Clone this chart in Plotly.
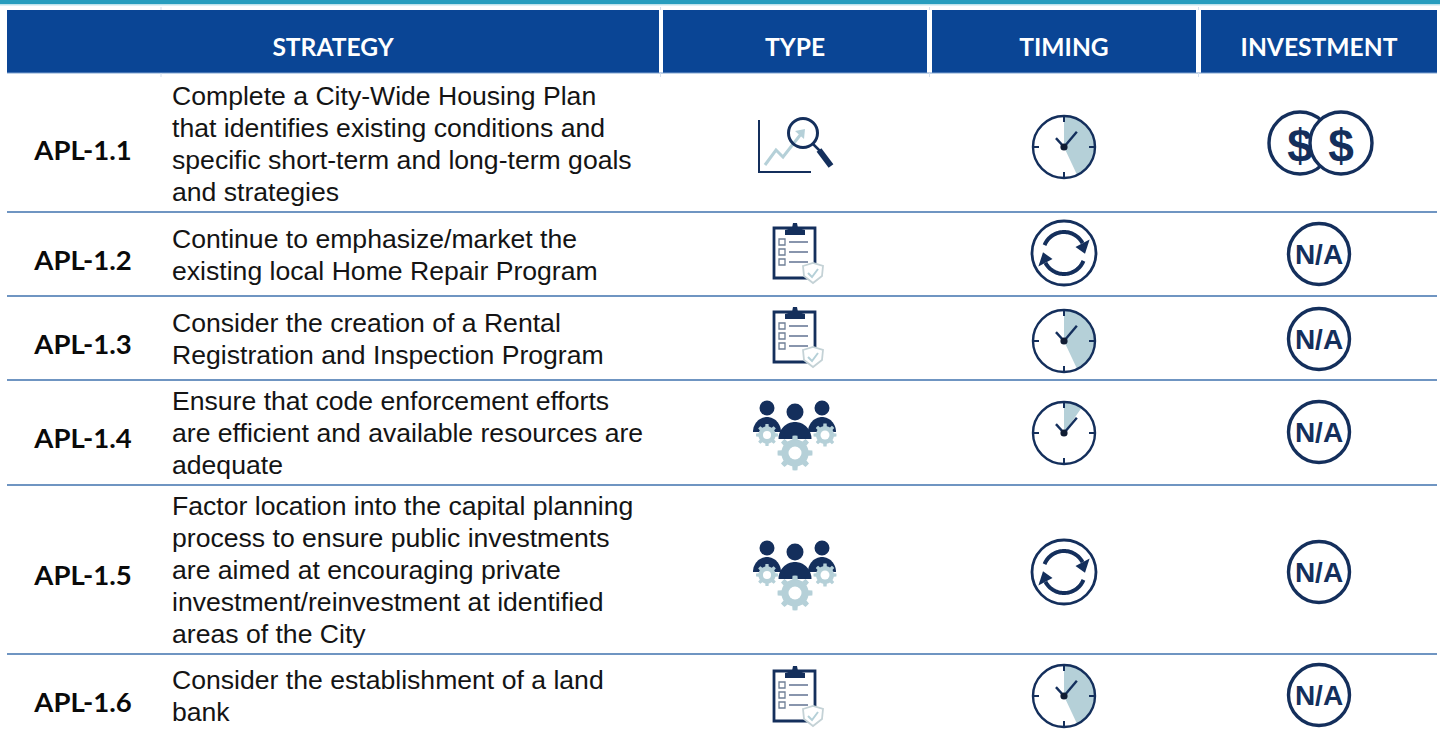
import math
import plotly.graph_objects as go

# ---------- table content ----------
headers = ["STRATEGY", "TYPE", "TIMING", "INVESTMENT"]
ids = ["APL-1.1", "APL-1.2", "APL-1.3", "APL-1.4", "APL-1.5", "APL-1.6"]
strategies = [
    ["Complete a City-Wide Housing Plan", "that identifies existing conditions and",
     "specific short-term and long-term goals", "and strategies"],
    ["Continue to emphasize/market the", "existing local Home Repair Program"],
    ["Consider the creation of a Rental", "Registration and Inspection Program"],
    ["Ensure that code enforcement efforts", "are efficient and available resources are", "adequate"],
    ["Factor location into the capital planning", "process to ensure public investments",
     "are aimed at encouraging private", "investment/reinvestment at identified", "areas of the City"],
    ["Consider the establishment of a land", "bank"],
]
types = ["analysis", "policy", "policy", "people", "people", "policy"]
timing = ["medium", "ongoing", "medium", "short", "ongoing", "medium"]
investment = ["$$", "N/A", "N/A", "N/A", "N/A", "N/A"]

# ---------- layout geometry ----------
W, H = 1440, 730
column_edges = [(7, 659), (663, 927), (932, 1196), (1201, 1437)]
header_x = [333, 795, 1064, 1319]
header_top, header_bottom, header_y = 10, 73, 50
row_lines = [212, 296, 380, 485, 654]
id_x = [83, 83, 83, 83, 83, 83]
id_y = [153, 263, 347, 441, 578, 705]
text_x = 172
text_mid = [146, 257, 341, 435, 572, 698]
line_pitch = 32
type_x, time_x, inv_x = 795, 1064, 1319
type_y = [144, 253, 337, 432, 572, 696]
time_y = [147, 253, 341, 433, 572, 696]
inv_y = [143, 254, 339, 432, 572, 695]
wedge_deg = {"medium": 155, "short": 35}

NAVY = "#142F5C"
LIGHT = "#B5D0D8"
BLUE = "#0A4595"
RULE = "#3F72AE"
shapes = []


def poly(points, close=True):
    d = "M" + " L".join(f"{x:.2f},{y:.2f}" for x, y in points)
    return d + (" Z" if close else "")


def arc(cx, cy, r, start, end, n=40):
    """Clockwise from 12 o'clock, degrees."""
    pts = []
    for i in range(n + 1):
        a = math.radians(start + (end - start) * i / n)
        pts.append((cx + r * math.sin(a), cy - r * math.cos(a)))
    return pts


def add_path(d, fill=None, line=None, width=0):
    shapes.append(dict(type="path", path=d, xref="x", yref="y", layer="below",
                       fillcolor=fill or "rgba(0,0,0,0)",
                       line=dict(color=line or "rgba(0,0,0,0)", width=width)))


def add_circle(cx, cy, r, fill=None, line=None, width=0):
    shapes.append(dict(type="circle", x0=cx - r, x1=cx + r, y0=cy - r, y1=cy + r,
                       xref="x", yref="y", layer="below",
                       fillcolor=fill or "rgba(0,0,0,0)",
                       line=dict(color=line or "rgba(0,0,0,0)", width=width)))


def add_seg(x0, y0, x1, y1, color=NAVY, width=2):
    shapes.append(dict(type="line", x0=x0, x1=x1, y0=y0, y1=y1, xref="x", yref="y",
                       layer="below", line=dict(color=color, width=width)))


def clock(cx, cy, deg):
    r = 31
    add_circle(cx, cy, r, fill="white")
    add_path(poly([(cx, cy)] + arc(cx, cy, r, 0, deg)), fill=LIGHT)
    add_circle(cx, cy, r, line=NAVY, width=2.4)
    for a in (0, 90, 180, 270):
        p = arc(cx, cy, r, a, a, 1)[0]
        q = arc(cx, cy, r - 6, a, a, 1)[0]
        add_seg(p[0], p[1], q[0], q[1], width=2)
    m = arc(cx, cy, 20, 40, 40, 1)[0]
    s = arc(cx, cy, 12, -42, -42, 1)[0]
    add_seg(cx, cy, m[0], m[1], width=2.4)
    add_seg(cx, cy, s[0], s[1], width=2.4)
    add_circle(cx, cy, 3.6, fill="#101C33")


def cycle(cx, cy):
    add_circle(cx, cy, 32, line=NAVY, width=2.8)
    for rot in (0, 180):
        pts = arc(cx, cy, 21, rot - 68, rot + 62)
        add_path(poly(pts, close=False), line=NAVY, width=4)
        tip = arc(cx, cy, 21, rot + 92, rot + 92, 1)[0]
        b1 = arc(cx, cy, 29, rot + 62, rot + 62, 1)[0]
        b2 = arc(cx, cy, 13, rot + 62, rot + 62, 1)[0]
        add_path(poly([tip, b1, b2]), fill=NAVY)


def gear(cx, cy, r, hole, teeth=8):
    pts = []
    step = 360 / teeth
    for k in range(teeth):
        a = k * step
        pts += arc(cx, cy, r * 0.78, a - step * 0.5, a - step * 0.26, 2)
        pts += arc(cx, cy, r, a - step * 0.18, a + step * 0.18, 2)
        pts += arc(cx, cy, r * 0.78, a + step * 0.26, a + step * 0.5, 2)
    add_path(poly(pts), fill=LIGHT)
    add_circle(cx, cy, hole, fill="white")


def dome(cx, base, half, height):
    pts = []
    for i in range(41):
        a = math.pi * i / 40
        pts.append((cx - half * math.cos(a), base - height * math.sin(a)))
    add_path(poly(pts), fill=NAVY)


def people(cx, cy):
    for dx, hy, hr, bw, bh, gy, gr, gh in ((-28, -24, 7.5, 14, 15, 2, 11, 4),
                                           (27, -24, 7.5, 14, 15, 2, 11.5, 4.5)):
        add_circle(cx + dx, cy + hy, hr, fill=NAVY)
        dome(cx + dx, cy + 0, bw, bh)
        gear(cx + dx + (3 if dx > 0 else 0), cy + gy + 1, gr, gh)
    add_circle(cx, cy - 20, 8.5, fill=NAVY)
    dome(cx, cy + 7, 16.5, 17)
    gear(cx, cy + 21, 17.5, 6.5)


def clipboard(cx, cy):
    add_path(poly([(cx - 21, cy - 25), (cx + 20, cy - 25), (cx + 20, cy + 25), (cx - 21, cy + 25)]),
             fill="white", line=NAVY, width=2.8)
    add_path(poly([(cx - 10, cy - 23), (cx - 10, cy - 18), (cx + 10, cy - 18), (cx + 10, cy - 23),
                   (cx + 3, cy - 25), (cx + 2, cy - 30), (cx - 2, cy - 30), (cx - 3, cy - 25)]), fill=NAVY)
    for dy in (-11, -1, 9):
        shapes.append(dict(type="rect", x0=cx - 16, x1=cx - 10, y0=cy + dy - 3, y1=cy + dy + 3,
                           xref="x", yref="y", layer="below", fillcolor="white",
                           line=dict(color="#6F7F96", width=1.3)))
        add_seg(cx - 6, cy + dy, cx + 13, cy + dy, color="#55688A", width=1.4)
    sx, sy = cx + 18, cy + 20
    add_path(poly([(sx - 10, sy - 7), (sx, sy - 10), (sx + 10, sy - 7), (sx + 9, sy + 3),
                   (sx, sy + 10), (sx - 9, sy + 3)]), fill="white", line="#C4D2D6", width=1.8)
    add_path(poly([(sx - 5, sy), (sx - 1, sy + 4), (sx + 5, sy - 4)], close=False), line=LIGHT, width=2)


def analysis(cx, cy):
    x0 = cx - 36
    add_path(poly([(x0, cy - 24), (x0, cy + 28), (x0 + 52, cy + 28)], close=False), line=NAVY, width=2)
    add_path(poly([(x0 + 6, cy + 21), (x0 + 17, cy + 6), (x0 + 24, cy + 13), (x0 + 42, cy - 10)],
                  close=False), line=LIGHT, width=3)
    add_path(poly([(x0 + 36, cy - 13), (x0 + 46, cy - 15), (x0 + 45, cy - 5)]), fill=LIGHT)
    mx, my = cx + 8, cy - 11
    add_circle(mx, my, 14.5, line=NAVY, width=3)
    add_seg(mx + 10, my + 11, mx + 17, my + 18, width=2.5)
    add_seg(mx + 16, my + 17, mx + 28, my + 33, width=6)


# ---------- chrome ----------
shapes.append(dict(type="rect", x0=0, x1=W, y0=0, y1=4, xref="x", yref="y", layer="below",
                   fillcolor="#279DBE", line=dict(width=0)))
shapes.append(dict(type="rect", x0=0, x1=W, y0=4, y1=5.5, xref="x", yref="y", layer="below",
                   fillcolor="#BFE3EC", line=dict(width=0)))
for x0, x1 in column_edges:
    shapes.append(dict(type="rect", x0=x0, x1=x1, y0=header_top, y1=header_bottom, xref="x", yref="y",
                       layer="below", fillcolor=BLUE, line=dict(width=0)))
add_seg(7, header_bottom, 1437, header_bottom, color="#7FA3D0", width=1)
for x in (161, 660.5, 929.5, 1198.5):
    add_seg(x, 7, x, header_top, color="#D5E0EE", width=1)
    add_seg(x, header_bottom, x, 77, color="#D5E0EE", width=1)
for y in row_lines:
    add_seg(7, y, 1437, y, color=RULE, width=1.4)

# ---------- icons ----------
for i in range(len(ids)):
    if types[i] == "analysis":
        analysis(type_x, type_y[i])
    elif types[i] == "policy":
        clipboard(type_x, type_y[i])
    else:
        people(type_x, type_y[i])

    if timing[i] == "ongoing":
        cycle(time_x, time_y[i])
    else:
        clock(time_x, time_y[i], wedge_deg[timing[i]])

    if investment[i] == "$$":
        for dx in (-19, 22):
            add_circle(inv_x + dx, inv_y[i], 31, fill="white", line=NAVY, width=3.4)
    else:
        add_circle(inv_x, inv_y[i], 30.5, fill="white", line=NAVY, width=3.4)

# ---------- text traces ----------
line_x, line_y, line_t = [], [], []
for mid, lines in zip(text_mid, strategies):
    for j, t in enumerate(lines):
        line_x.append(text_x)
        line_y.append(mid + (j - (len(lines) - 1) / 2) * line_pitch)
        line_t.append(t)

inv_tx, inv_ty, inv_t = [], [], []
dollar_x, dollar_y = [], []
for i, v in enumerate(investment):
    if v == "$$":
        dollar_x += [inv_x - 19, inv_x + 22]
        dollar_y += [inv_y[i] + 7, inv_y[i] + 7]
    else:
        inv_tx.append(inv_x)
        inv_ty.append(inv_y[i] + 3)
        inv_t.append(v)


def text_trace(x, y, t, family, size, color, pos="middle center", weight="normal"):
    return go.Scatter(x=x, y=y, text=t, mode="text", textposition=pos, hoverinfo="skip",
                      showlegend=False,
                      textfont=dict(family=family, size=size, color=color, weight=weight))


fig = go.Figure()
fig.add_trace(text_trace(header_x, [header_y] * 4, headers, "Lato", 24.6, "white", weight=700))
fig.add_trace(text_trace(id_x, id_y, ids, "Lato", 27.5, "#0A0A0A", weight=700))
fig.add_trace(text_trace(line_x, line_y, line_t, "Liberation Sans", 26.6, "#141414", pos="middle right"))
fig.add_trace(text_trace(inv_tx, inv_ty, inv_t, "Liberation Sans", 28, NAVY, weight=700))
fig.add_trace(text_trace(dollar_x, dollar_y, ["$", "$"], "Liberation Sans", 46, NAVY, weight=700))

fig.update_layout(
    width=W, height=H, autosize=False,
    margin=dict(l=0, r=0, t=0, b=0),
    paper_bgcolor="white", plot_bgcolor="white",
    shapes=shapes,
    xaxis=dict(range=[0, W], visible=False, fixedrange=True),
    yaxis=dict(range=[H, 0], visible=False, fixedrange=True),
)
fig.write_html("out.html", config={"displayModeBar": False},
               post_script="document.body.style.margin='0';document.body.style.overflow='hidden';")
